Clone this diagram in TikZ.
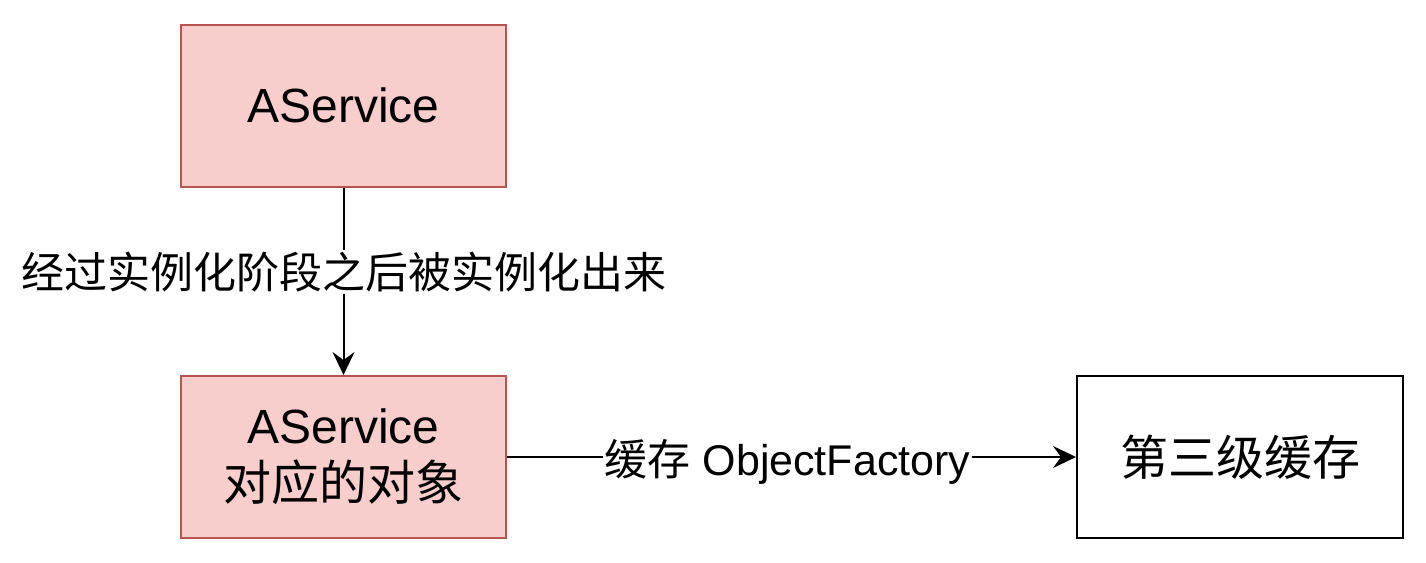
\documentclass[tikz,border=0pt]{standalone}
\usepackage{fontspec}
\setmainfont{Liberation Sans}
\newfontfamily\cjk{Noto Sans CJK SC}
\usetikzlibrary{arrows.meta}
\definecolor{redfill}{HTML}{F8CECC}
\definecolor{redline}{HTML}{B85450}
\begin{document}
\begin{tikzpicture}[x=1pt,y=-1pt,
  redbox/.style={draw=redline,fill=redfill,line width=2pt,minimum width=325pt,minimum height=162pt,align=center,inner sep=0pt},
  plainbox/.style={draw=black,fill=white,line width=2pt,minimum width=326pt,minimum height=162pt,align=center,inner sep=0pt},
  conn/.style={draw=black,line width=2pt,-{Stealth[length=23pt,width=22pt,inset=8pt]}},
  lbl/.style={fill=white,inner sep=2pt,font=\fontsize{43}{50}\selectfont}]
\useasboundingbox (0,0) rectangle (1426,562);
\node[redbox,font=\fontsize{48}{57}\selectfont] (a) at (343.5,105.5) {AService};
\node[redbox,font=\fontsize{48}{57}\selectfont] (b) at (343.5,457) {AService\\{\cjk 对应的对象}};
\node[plainbox,font=\fontsize{48}{57}\selectfont] (c) at (1240,457) {{\cjk 第三级缓存}};
\draw[conn] (a) -- node[lbl,yshift=9pt] {\cjk 经过实例化阶段之后被实例化出来} (b);
\draw[conn] (b) -- node[lbl,yshift=-5pt,xshift=-4pt] {{\cjk 缓存} ObjectFactory} (c);
\end{tikzpicture}
\end{document}
